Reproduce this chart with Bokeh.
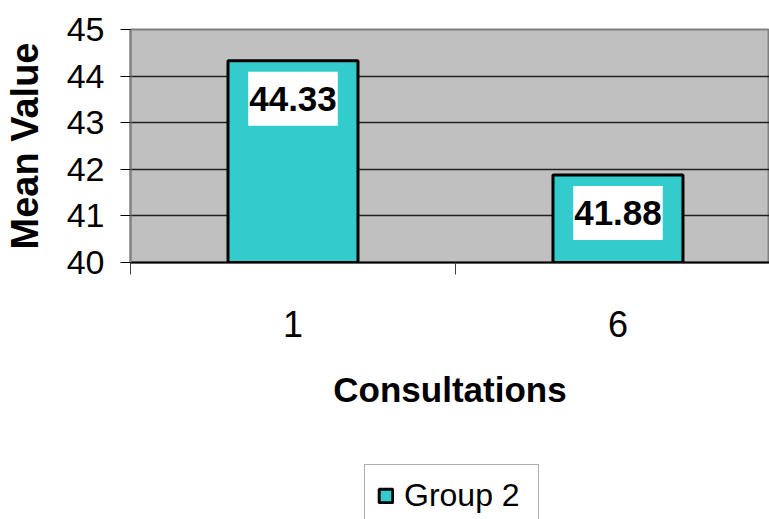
from bokeh.plotting import figure
from bokeh.layouts import column
from bokeh.models import Range1d, FixedTicker, Legend, LegendItem, ColumnDataSource
from bokeh.core.properties import value
from bokeh.embed import file_html
from bokeh.resources import INLINE

categories = ["1", "6"]
means = [44.33, 41.88]
label_texts = ["44.33", "41.88"]
series_name = "Group 2"
y_ticks = [40, 41, 42, 43, 44, 45]

FONT = "Liberation Sans"
BAR_FILL = "#33CCCC"

xpos = [i + 0.5 for i in range(len(categories))]
src = ColumnDataSource(dict(x=xpos, top=means, txt=label_texts))

p = figure(width=769, height=450, output_backend="svg", toolbar_location=None,
           x_range=Range1d(0, 641 / 326), y_range=Range1d(40, 45),
           min_border_left=128, min_border_top=29, min_border_right=0, min_border_bottom=188)
p.background_fill_color = "#C0C0C0"
p.border_fill_color = "white"
p.outline_line_color = "#808080"
p.outline_line_width = 2

# grid
p.xgrid.grid_line_color = None
p.ygrid.grid_line_color = "#202020"
p.ygrid.grid_line_width = 1.5
p.ygrid.ticker = FixedTicker(ticks=y_ticks)

# y axis
p.yaxis.ticker = FixedTicker(ticks=y_ticks)
p.yaxis.axis_label = "Mean Value"
p.yaxis.axis_label_text_font = FONT
p.yaxis.axis_label_text_font_style = "bold"
p.yaxis.axis_label_text_font_size = "38px"
p.yaxis.axis_label_text_color = "black"
p.yaxis.axis_label_standoff = 18
p.yaxis.major_label_text_font = FONT
p.yaxis.major_label_text_font_size = "34px"
p.yaxis.major_label_text_color = "black"
p.yaxis.major_label_standoff = 16
p.yaxis.major_tick_out = 10
p.yaxis.major_tick_in = 0
p.yaxis.major_tick_line_color = "black"
p.yaxis.minor_tick_line_color = None
p.yaxis.axis_line_color = "#808080"
p.yaxis.axis_line_width = 2

# x axis
p.xaxis.ticker = FixedTicker(ticks=xpos, minor_ticks=[0, 1, 2])
p.xaxis.major_label_overrides = {x: c for x, c in zip(xpos, categories)}
p.xaxis.major_tick_line_color = None
p.xaxis.major_tick_out = 0
p.xaxis.major_tick_in = 0
p.xaxis.minor_tick_out = 12
p.xaxis.minor_tick_in = 0
p.xaxis.minor_tick_line_color = "#404040"
p.xaxis.minor_tick_line_width = 1
p.xaxis.major_label_text_font = FONT
p.xaxis.major_label_text_font_size = "36px"
p.xaxis.major_label_text_color = "black"
p.xaxis.major_label_standoff = 36
p.xaxis.axis_label = "Consultations"
p.xaxis.axis_label_text_font = FONT
p.xaxis.axis_label_text_font_style = "bold"
p.xaxis.axis_label_text_font_size = "35px"
p.xaxis.axis_label_text_color = "black"
p.xaxis.axis_label_standoff = 30
p.xaxis.axis_line_color = "black"
p.xaxis.axis_line_width = 2

p.vbar(x="x", top="top", bottom=40, width=0.4, source=src,
       fill_color=BAR_FILL, line_color="black", line_width=3)

p.text(x="x", y="top", text="txt", source=src, y_offset=38,
       text_align="center", text_baseline="middle",
       text_font=value(FONT), text_font_style="bold", text_font_size="35px",
       text_color="black", background_fill_color="white", padding=(1, 15))

# legend strip below the chart (frame aligned with the chart's frame);
# its zero-width bars fall below this strip's visible area, only the legend shows
p2 = figure(width=769, height=69, output_backend="svg", toolbar_location=None,
            x_range=Range1d(0, 641 / 326), y_range=Range1d(45, 50),
            x_axis_location=None, y_axis_location=None,
            min_border_left=128, min_border_right=0, min_border_top=0, min_border_bottom=0)
p2.grid.grid_line_color = None
p2.outline_line_color = None
p2.background_fill_color = "white"
p2.border_fill_color = "white"
legend_bar = p2.vbar(x="x", top="top", bottom=40, width=0, source=src,
                     fill_color=BAR_FILL, line_color="black", line_width=3)
legend = Legend(items=[LegendItem(label=series_name, renderers=[legend_bar])],
                location=(234, -8), orientation="vertical",
                label_text_font=FONT, label_text_font_size="32px",
                label_text_color="black", glyph_width=17, glyph_height=17,
                padding=12, margin=0, label_standoff=10, label_width=122,
                border_line_color="#606060", border_line_width=1,
                background_fill_color="white", background_fill_alpha=1)
p2.add_layout(legend, "center")

layout = column(p, p2, spacing=0)
open("out.html", "w").write(file_html(layout, INLINE))
